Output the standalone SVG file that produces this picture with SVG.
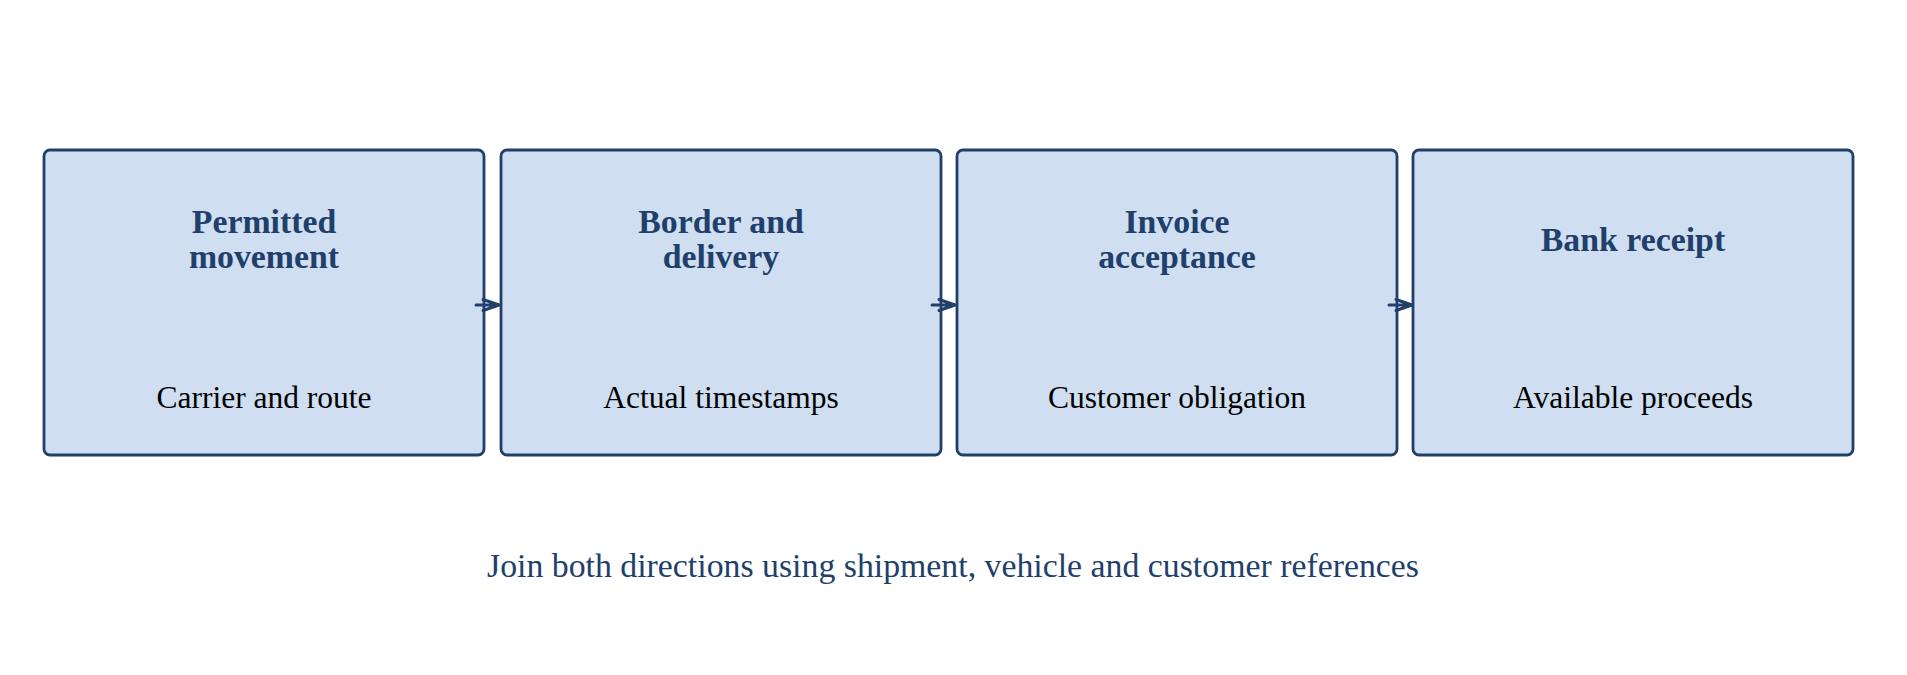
<svg xmlns="http://www.w3.org/2000/svg" width="1907" height="675" viewBox="0 0 1907 675">
<style>
.box{fill:#cfdef0;stroke:#213f6b;stroke-width:2.8}
.title{font-family:"Liberation Serif","Times New Roman",serif;font-weight:bold;font-size:33.8px;fill:#213f6b;text-anchor:middle}
.sub{font-family:"Liberation Serif","Times New Roman",serif;font-size:31.5px;fill:#000;text-anchor:middle}
.foot{font-family:"Liberation Serif","Times New Roman",serif;font-size:33.8px;fill:#213f6b;text-anchor:middle}
.conn{fill:none;stroke:#213f6b;stroke-width:3;stroke-linecap:round;stroke-linejoin:round}
</style>
<rect width="1907" height="675" fill="#ffffff"/>
<g id="n1">
<rect class="box" x="44" y="150" width="440" height="305" rx="6"/>
<text class="title" x="264" y="233">Permitted</text>
<text class="title" x="264" y="268">movement</text>
<text class="sub" x="264" y="408">Carrier and route</text>
</g>
<g id="n2">
<rect class="box" x="501" y="150" width="440" height="305" rx="6"/>
<text class="title" x="721" y="233">Border and</text>
<text class="title" x="721" y="268">delivery</text>
<text class="sub" x="721" y="408">Actual timestamps</text>
</g>
<g id="n3">
<rect class="box" x="957" y="150" width="440" height="305" rx="6"/>
<text class="title" x="1177" y="233">Invoice</text>
<text class="title" x="1177" y="268">acceptance</text>
<text class="sub" x="1177" y="408">Customer obligation</text>
</g>
<g id="n4">
<rect class="box" x="1413" y="150" width="440" height="305" rx="6"/>
<text class="title" x="1633" y="251">Bank receipt</text>
<text class="sub" x="1633" y="408">Available proceeds</text>
</g>
<g id="connectors">
<path class="conn" d="M476 305 H499 M483 299.5 L499 305 L483 310.5"/>
<path class="conn" d="M932 305 H955 M939 299.5 L955 305 L939 310.5"/>
<path class="conn" d="M1389 305 H1412 M1396 299.5 L1412 305 L1396 310.5"/>
</g>
<text class="foot" x="953" y="577">Join both directions using shipment, vehicle and customer references</text>
</svg>
